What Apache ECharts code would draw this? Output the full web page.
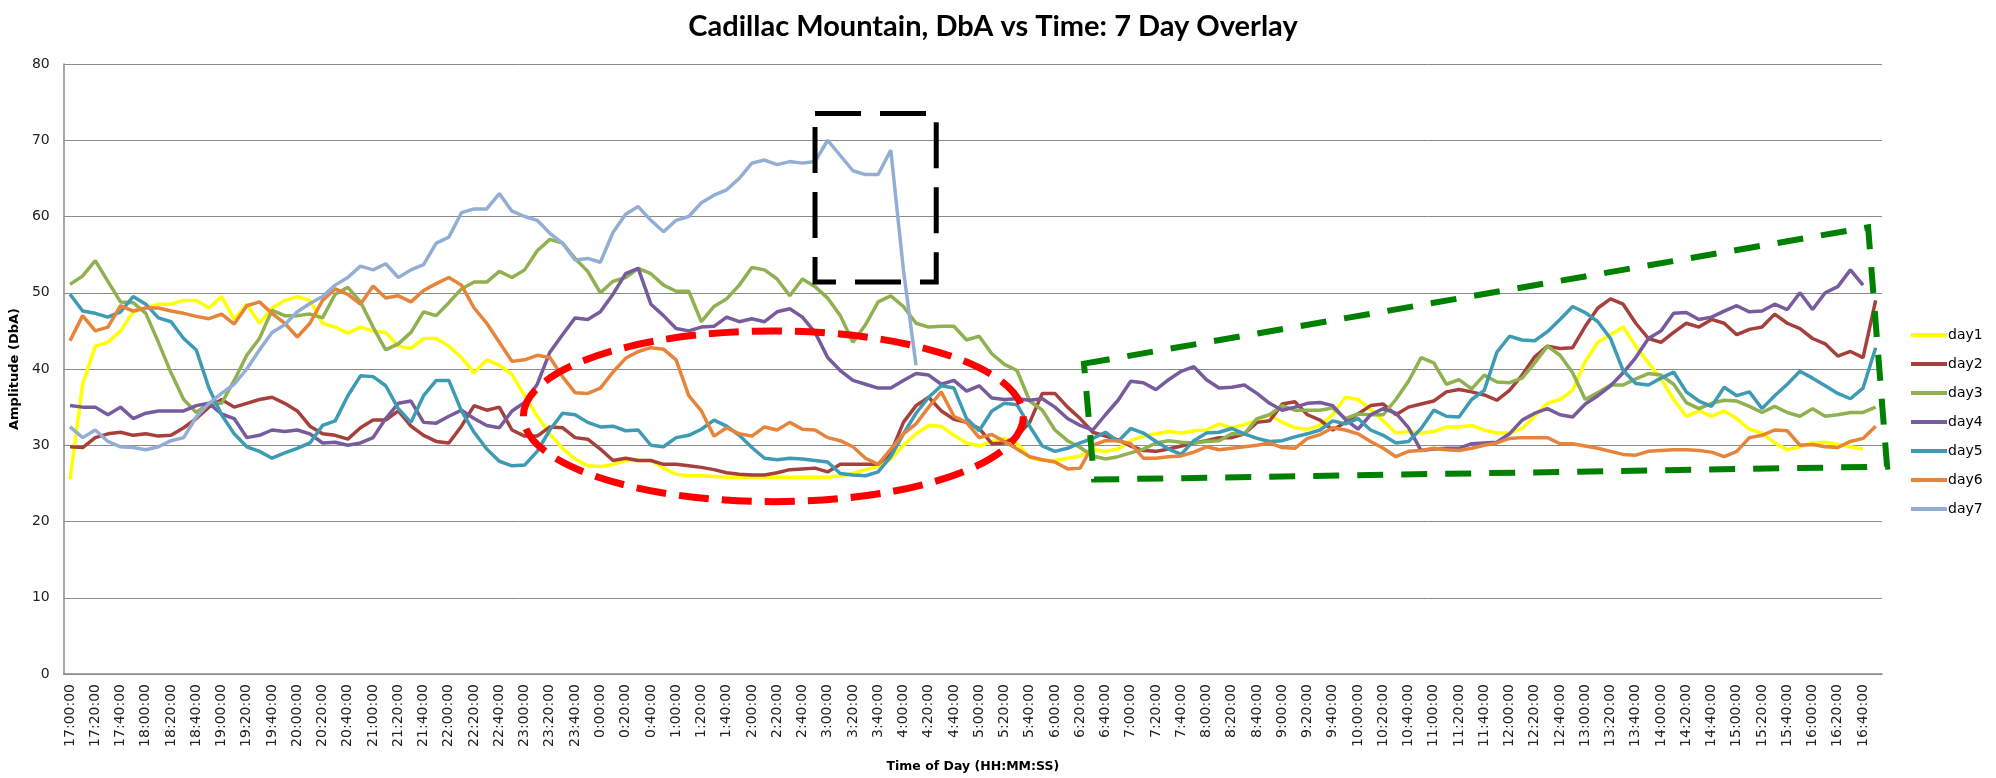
<!DOCTYPE html>
<html>
<head>
<meta charset="utf-8">
<title>Cadillac Mountain, DbA vs Time: 7 Day Overlay</title>
<script src="https://cdn.jsdelivr.net/npm/echarts@6/dist/echarts.min.js"></script>
<style>
  html, body { margin: 0; padding: 0; background: #fff; }
  #chart { width: 1996px; height: 778px; }
</style>
</head>
<body>
<div id="chart"></div>
<script>
// time of day, one category every 10 minutes from 17:00:00
var times = [];
for (var i = 0; i < 144; i++) {
  var m = (17 * 60 + i * 10) % 1440;
  times.push(Math.floor(m / 60) + ':' + (m % 60 < 10 ? '0' : '') + (m % 60) + ':00');
}

var seriesNames = ['day1', 'day2', 'day3', 'day4', 'day5', 'day6', 'day7'];
var colors = ['#FFFF00', '#A6403C', '#8FB14F', '#785B9D', '#3D9BB4', '#E7843B', '#93AED5'];
var yTicks = [0, 10, 20, 30, 40, 50, 60, 70, 80];

var day1 = [25.5, 38, 43, 43.5, 45, 47.5, 48, 48.5, 48.5, 49, 49, 48, 49.5, 46.5, 48.5, 46, 48, 49, 49.5, 49, 46, 45.5, 44.7, 45.5, 45,
  44.8, 43, 42.7, 44, 44, 43, 41.5, 39.5, 41.2, 40.5, 39.3, 36.5, 33.8, 31.5, 29.6, 28.2, 27.3, 27.2, 27.5, 28, 28, 28, 27, 26.2,
  26, 26, 25.9, 25.8, 25.8, 25.8, 25.8, 25.8, 25.8, 25.8, 25.8, 25.8, 26, 26.3, 26.8, 27.2, 28.2, 30, 31.5, 32.6, 32.5, 31.3, 30.3, 29.9,
  30.5, 30.9, 30.2, 28.4, 28, 28, 28.3, 28.6, 29.4, 29.2, 29.5, 30.6, 31.2, 31.5, 31.8, 31.6, 31.9, 32, 32.8, 32.3, 32.7, 33.3, 34, 33,
  32.3, 32.1, 32.6, 34, 36.3, 36, 34.7, 33.2, 31.6, 31.8, 31.6, 31.8, 32.4, 32.4, 32.6, 32, 31.6, 31.6, 32.2, 33.8, 35.5, 36, 37.2, 41,
  43.5, 44.5, 45.5, 43, 40.8, 38.7, 36, 33.8, 34.5, 33.8, 34.5, 33.5, 32.1, 31.6, 30.3, 29.4, 29.8, 30.3, 30.4, 30.1, 29.8, 29.5];

var day2 = [29.8, 29.7, 31, 31.5, 31.7, 31.3, 31.5, 31.2, 31.3, 32.3, 33.5, 35, 36, 35, 35.5, 36, 36.3, 35.5, 34.5, 32.5, 31.5, 31.3, 30.8, 32.3, 33.3,
  33.3, 34.5, 32.5, 31.3, 30.5, 30.3, 32.5, 35.2, 34.6, 35, 32, 31.2, 31.2, 32.4, 32.3, 31, 30.8, 29.5, 28, 28.3, 28, 28, 27.5, 27.5,
  27.3, 27.1, 26.8, 26.4, 26.2, 26.1, 26.1, 26.4, 26.8, 26.9, 27, 26.5, 27.5, 27.5, 27.5, 27.5, 29, 33, 35.2, 36.3, 34.5, 33.4, 33, 32.2,
  30.2, 30.3, 31.2, 33, 36.8, 36.8, 35, 33.5, 31.7, 31.2, 30.7, 29.9, 29.3, 29.2, 29.5, 29.9, 30.3, 30.6, 31, 31, 31.5, 33, 33.2, 35.4,
  35.7, 34, 33.3, 32, 33, 34.1, 35.2, 35.4, 34, 35, 35.4, 35.8, 37, 37.3, 37, 36.6, 35.9, 37.2, 39.2, 41.6, 43, 42.7, 42.8, 45.6,
  48, 49.2, 48.5, 46, 44, 43.5, 44.8, 46, 45.5, 46.5, 46, 44.5, 45.2, 45.5, 47.2, 46, 45.3, 44, 43.3, 41.7, 42.3, 41.5, 49];

var day3 = [51.1, 52.2, 54.2, 51.5, 48.8, 48.7, 47.3, 43.5, 39.5, 36, 34.3, 35.5, 35.5, 38.5, 41.8, 44, 47.7, 47, 47, 47.2, 46.7, 49.8, 50.7, 48.8, 45.5,
  42.5, 43.3, 44.8, 47.5, 47, 48.7, 50.5, 51.4, 51.4, 52.8, 52, 53, 55.5, 57, 56.5, 54.5, 52.8, 50, 51.5, 52, 53.2, 52.5, 51, 50.2,
  50.2, 46.2, 48.2, 49.2, 51, 53.3, 53, 51.8, 49.6, 51.8, 50.8, 49.3, 47, 43.5, 45.8, 48.8, 49.6, 48.2, 46, 45.5, 45.6, 45.6, 43.8, 44.3,
  42, 40.6, 39.8, 35.8, 34.6, 32, 30.6, 29.7, 28.6, 28.2, 28.5, 29, 29.5, 30.3, 30.6, 30.4, 30.3, 30.5, 30.6, 31.5, 31.5, 33.5, 34, 35.2,
  34.6, 34.6, 34.6, 34.9, 33.5, 34.1, 34, 34, 36, 38.4, 41.5, 40.8, 38, 38.6, 37.4, 39.2, 38.3, 38.2, 38.8, 40.8, 43, 41.8, 39.5, 36,
  36.9, 37.9, 37.9, 38.7, 39.4, 39.2, 38, 35.6, 34.8, 35.5, 35.9, 35.8, 35.1, 34.3, 35.1, 34.3, 33.8, 34.8, 33.8, 34, 34.3, 34.3, 35];

var day4 = [35.2, 35, 35, 34, 35, 33.5, 34.2, 34.5, 34.5, 34.5, 35.2, 35.5, 34.1, 33.5, 31, 31.3, 32, 31.8, 32, 31.5, 30.3, 30.4, 30, 30.3, 31,
  33.5, 35.5, 35.8, 33, 32.9, 33.8, 34.6, 33.5, 32.6, 32.3, 34.5, 35.6, 38, 42.2, 44.5, 46.7, 46.5, 47.5, 49.8, 52.5, 53.2, 48.5, 47, 45.3,
  45, 45.5, 45.6, 46.8, 46.2, 46.6, 46.2, 47.5, 47.9, 46.8, 44.8, 41.5, 39.8, 38.5, 38, 37.5, 37.5, 38.5, 39.4, 39.2, 38, 38.5, 37.1, 37.8,
  36.2, 36, 36.1, 35.9, 36.1, 35, 33.5, 32.6, 32, 34, 35.9, 38.4, 38.2, 37.3, 38.6, 39.7, 40.3, 38.6, 37.5, 37.6, 37.9, 36.8, 35.5, 34.6,
  35, 35.5, 35.6, 35.2, 33.4, 32.1, 34, 34.8, 34.2, 32.3, 29.3, 29.5, 29.6, 29.6, 30.2, 30.3, 30.4, 31.5, 33.3, 34.2, 34.8, 34, 33.7, 35.4,
  36.5, 37.8, 39.5, 41.5, 44, 45, 47.3, 47.4, 46.5, 46.8, 47.6, 48.3, 47.5, 47.6, 48.5, 47.8, 50, 47.8, 50, 50.8, 53, 51];

var day5 = [49.8, 47.6, 47.3, 46.8, 47.5, 49.5, 48.5, 46.7, 46.2, 44, 42.5, 37.5, 34, 31.5, 29.8, 29.2, 28.3, 29, 29.6, 30.3, 32.6, 33.2, 36.5, 39.1, 39,
  37.8, 34.8, 33, 36.5, 38.5, 38.5, 34.5, 31.7, 29.5, 27.9, 27.3, 27.4, 29.2, 32, 34.2, 34, 33, 32.4, 32.5, 31.9, 32, 30, 29.8, 31,
  31.3, 32.1, 33.3, 32.5, 31.3, 29.7, 28.3, 28.1, 28.3, 28.2, 28, 27.8, 26.3, 26.1, 26, 26.5, 28.5, 31.5, 34.2, 36.3, 37.8, 37.5, 33.5, 31.9,
  34.5, 35.5, 35.3, 32.5, 29.9, 29.2, 29.6, 30.3, 30.9, 31.7, 30.5, 32.2, 31.6, 30.5, 29.5, 28.8, 30.6, 31.6, 31.7, 32.2, 31.5, 30.9, 30.5, 30.6,
  31.1, 31.5, 32, 33.2, 32.8, 33.5, 32, 31.3, 30.3, 30.5, 32.2, 34.6, 33.8, 33.7, 36, 37.2, 42.2, 44.3, 43.8, 43.7, 44.9, 46.5, 48.2, 47.4,
  46.2, 44, 39.8, 38.1, 37.9, 38.8, 39.6, 37, 35.8, 35.1, 37.6, 36.5, 37, 34.8, 36.5, 38, 39.7, 38.8, 37.8, 36.8, 36.1, 37.5, 42.8];

var day6 = [43.7, 47, 45, 45.5, 48.3, 47.6, 48, 48, 47.6, 47.3, 46.9, 46.6, 47.2, 45.9, 48.3, 48.8, 47.3, 46, 44.2, 46, 49, 50.5, 49.8, 48.5, 50.9,
  49.3, 49.6, 48.8, 50.3, 51.2, 52, 51, 48, 46, 43.5, 41, 41.2, 41.8, 41.5, 39, 36.9, 36.8, 37.5, 39.6, 41.4, 42.3, 42.8, 42.6, 41.2,
  36.5, 34.5, 31.2, 32.3, 31.5, 31.2, 32.4, 32, 33, 32.1, 32, 31, 30.6, 29.8, 28.3, 27.5, 29.5, 31.5, 32.8, 35, 37, 33.8, 33, 31,
  31.4, 30.5, 29.5, 28.5, 28.1, 27.8, 26.9, 27, 30, 30.6, 30.6, 30.2, 28.3, 28.3, 28.5, 28.6, 29.1, 29.8, 29.4, 29.6, 29.8, 30, 30.3, 29.7,
  29.6, 30.9, 31.4, 32.3, 32, 31.5, 30.5, 29.6, 28.5, 29.2, 29.3, 29.6, 29.4, 29.3, 29.6, 30, 30.3, 30.9, 31, 31, 31, 30.2, 30.2, 29.9,
  29.6, 29.2, 28.8, 28.7, 29.2, 29.3, 29.4, 29.4, 29.3, 29.1, 28.5, 29.2, 31, 31.3, 32, 31.9, 30, 30.1, 29.8, 29.7, 30.5, 30.9, 32.5];

var day7 = [32.4, 31, 32, 30.5, 29.8, 29.7, 29.4, 29.8, 30.6, 31, 33.7, 35.5, 36.8, 38, 40, 42.5, 44.8, 45.8, 47.5, 48.6, 49.5, 51, 52, 53.5, 53,
  53.8, 52, 53, 53.7, 56.5, 57.3, 60.5, 61, 61, 63, 60.7, 60, 59.5, 57.8, 56.5, 54.3, 54.5, 54, 57.9, 60.3, 61.3, 59.5, 58, 59.5,
  60, 61.8, 62.8, 63.5, 65, 67, 67.4, 66.8, 67.2, 67, 67.2, 70, 68, 66, 65.5, 65.5, 68.7, 53, 40.5];

var allDays = [day1, day2, day3, day4, day5, day6, day7];

// hand drawn highlight shapes, in [category index, dBA]
var boxCorners = [[59.0, 73.5], [68.6, 51.4]];
var ovalCenter = [55.7, 33.8];
var ovalRadius = [19.8, 11.2];
var wedgePoints = [[80.3, 40.7], [142.4, 58.6], [143.9, 27.2], [81.1, 25.5]];

var mychart = echarts.init(document.getElementById('chart'));

var series = [];
for (var s = 0; s < allDays.length; s++) {
  series.push({
    name: seriesNames[s],
    type: 'line',
    data: allDays[s],
    symbol: 'none',
    smooth: false,
    lineStyle: { width: 3.5, color: colors[s] },
    itemStyle: { color: colors[s] }
  });
}

var option = {
  backgroundColor: '#ffffff',
  animation: false,
  color: colors,
  title: {
    text: 'Cadillac Mountain, DbA vs Time: 7 Day Overlay',
    left: 988,
    top: 7,
    textAlign: 'center',
    textStyle: { fontFamily: 'Lato', fontWeight: 'bold', fontSize: 29, color: '#000' }
  },
  legend: {
    orient: 'vertical',
    left: 1906,
    top: 323,
    icon: 'rect',
    itemWidth: 36,
    itemHeight: 4,
    itemGap: 15,
    textStyle: { fontFamily: 'DejaVu Sans', fontSize: 14, lineHeight: 14, color: '#000', padding: [0, 0, 0, -4] },
    data: seriesNames
  },
  grid: { left: 63, top: 64, width: 1819, height: 612 },
  xAxis: {
    type: 'category',
    data: times,
    boundaryGap: true,
    name: 'Time of Day (HH:MM:SS)',
    nameLocation: 'middle',
    nameGap: 86,
    nameTextStyle: { fontFamily: 'DejaVu Sans', fontWeight: 'bold', fontSize: 12.5, color: '#000' },
    axisLine: { lineStyle: { color: '#8a8a8a', width: 1.5 } },
    axisTick: { show: false },
    axisLabel: { rotate: 90, interval: 1, margin: 10, fontFamily: 'DejaVu Sans', fontSize: 14, color: '#222' },
    splitLine: { show: false }
  },
  yAxis: {
    type: 'value',
    min: yTicks[0],
    max: yTicks[yTicks.length - 1],
    interval: 10,
    name: 'Amplitude (DbA)',
    nameLocation: 'middle',
    nameGap: 40,
    nameTextStyle: { fontFamily: 'DejaVu Sans', fontWeight: 'bold', fontSize: 13, color: '#000' },
    axisLine: { show: true, lineStyle: { color: '#8a8a8a', width: 1.5 } },
    axisTick: { show: false },
    axisLabel: { margin: 14, fontFamily: 'DejaVu Sans', fontSize: 14, color: '#222' },
    splitLine: { lineStyle: { color: '#8a8a8a', width: 1 } }
  },
  series: series
};

mychart.setOption(option);

// map [index, value] to pixels through the chart's own axes
function toPx(p) {
  var a = mychart.convertToPixel({ xAxisIndex: 0, yAxisIndex: 0 }, [0, 0]);
  var b = mychart.convertToPixel({ xAxisIndex: 0, yAxisIndex: 0 }, [1, 10]);
  return [a[0] + (b[0] - a[0]) * p[0], a[1] + (b[1] - a[1]) * p[1] / 10];
}

var b0 = toPx(boxCorners[0]);
var b1 = toPx(boxCorners[1]);
var oc = toPx(ovalCenter);
var oe = toPx([ovalCenter[0] + ovalRadius[0], ovalCenter[1] + ovalRadius[1]]);
var wp = [];
for (var j = 0; j < wedgePoints.length; j++) wp.push(toPx(wedgePoints[j]));

mychart.setOption({
  graphic: [
    {
      type: 'rect', z: 100,
      shape: { x: b0[0], y: b0[1], width: b1[0] - b0[0], height: b1[1] - b0[1] },
      style: { fill: 'none', stroke: '#000', lineWidth: 5, lineDash: [46, 19] }
    },
    {
      type: 'ellipse', z: 100,
      shape: { cx: oc[0], cy: oc[1], rx: oe[0] - oc[0], ry: oc[1] - oe[1] },
      style: { fill: 'none', stroke: '#ff0000', lineWidth: 7, lineDash: [30, 13] }
    },
    {
      type: 'polygon', z: 100,
      shape: { points: wp },
      style: { fill: 'none', stroke: '#008000', lineWidth: 6, lineDash: [26, 18] }
    }
  ]
});
</script>
</body>
</html>
